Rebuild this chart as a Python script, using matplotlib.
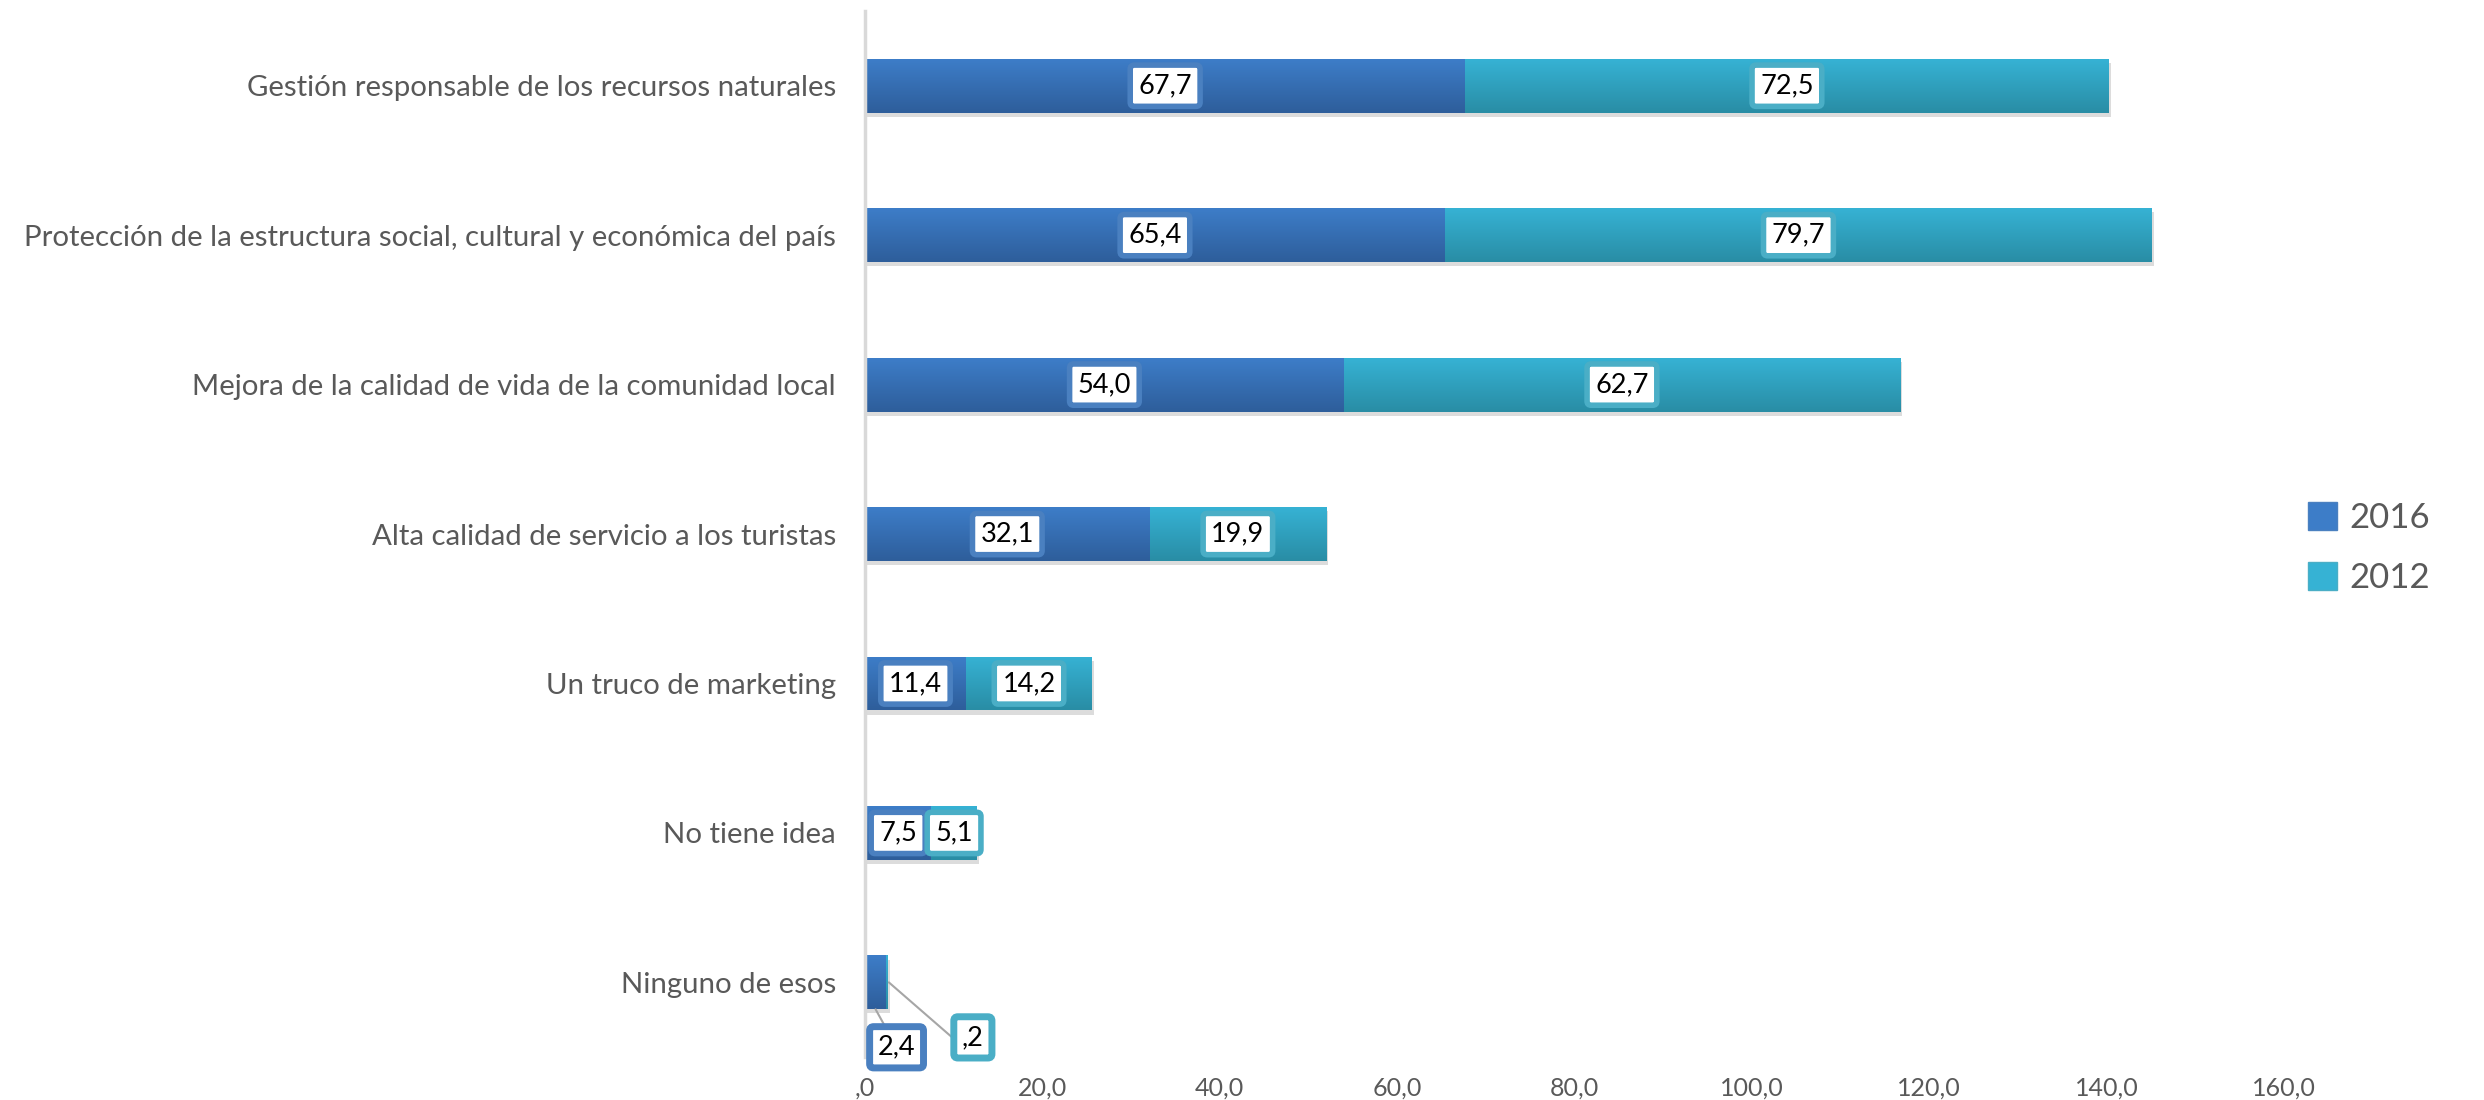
import numpy as np
import matplotlib.pyplot as plt
import matplotlib.patheffects as pe
from matplotlib.colors import LinearSegmentedColormap
from matplotlib.patches import Patch

plt.rcParams['font.family'] = ['Lato', 'DejaVu Sans']

categorias = ["Gestión responsable de los recursos naturales",
              "Protección de la estructura social, cultural y económica del país",
              "Mejora de la calidad de vida de la comunidad local",
              "Alta calidad de servicio a los turistas",
              "Un truco de marketing",
              "No tiene idea",
              "Ninguno de esos"]
v2016 = [67.7, 65.4, 54.0, 32.1, 11.4, 7.5, 2.4]
v2012 = [72.5, 79.7, 62.7, 19.9, 14.2, 5.1, 0.2]
xticks = [0, 20, 40, 60, 80, 100, 120, 140, 160]
xticklabels = [",0", "20,0", "40,0", "60,0", "80,0", "100,0", "120,0", "140,0", "160,0"]

series = [("2016", v2016, "#3d7dc8", "#2e5e9b", "#4a80c0"),
          ("2012", v2012, "#36b2d4", "#298da5", "#4aaec6")]


def fmt(v):
    s = f"{v:.1f}".replace(".", ",")
    return s[1:] if s.startswith("0") else s


fig = plt.figure(figsize=(24.84, 11), dpi=100)
ax = fig.add_axes([0.3482, 0.039, 0.5713, 0.951])

y = np.arange(len(categorias))
alto = 0.36
left = np.zeros(len(categorias))
grad = np.linspace(0, 1, 64).reshape(-1, 1)
for nombre, vals, top, bot, borde in series:
    cmap = LinearSegmentedColormap.from_list(nombre, [top, bot])
    bars = ax.barh(y, vals, left=left, height=alto, color=top, edgecolor='none',
                   label=nombre)
    for b in bars:
        b.set_path_effects([pe.SimplePatchShadow(offset=(1.5, -3), shadow_rgbFace='#8c8c8c',
                                                 alpha=0.3), pe.Normal()])
        x0, y0, w, h = b.get_x(), b.get_y(), b.get_width(), b.get_height()
        im = ax.imshow(grad, cmap=cmap, aspect='auto', extent=[x0, x0 + w, y0 + h, y0],
                       zorder=2.1)
        im.set_clip_path(b)
    left = left + np.array(vals)

# etiquetas de datos
caja = dict(boxstyle='round,pad=0.3,rounding_size=0.15', fc='white', lw=4)
left = np.zeros(len(categorias))
for k, (nombre, vals, top, bot, borde) in enumerate(series):
    for i, v in enumerate(vals):
        if i == len(categorias) - 1:
            continue
        ax.text(left[i] + v / 2, y[i], fmt(v), ha='center', va='center', fontsize=19.5,
                color='black', zorder=5, bbox=dict(caja, ec=borde))
    left = left + np.array(vals)

# "Ninguno de esos" con líneas guía
i = len(categorias) - 1
ax.annotate(fmt(v2016[i]), xy=(v2016[i] / 2, y[i] + alto / 2), xytext=(21, -38),
            textcoords='offset pixels', ha='center', va='center', fontsize=19.5, zorder=5,
            bbox=dict(caja, ec=series[0][4], lw=5),
            arrowprops=dict(arrowstyle='-', color='#a6a6a6', lw=1.5, shrinkA=0, shrinkB=0))
ax.annotate(fmt(v2012[i]), xy=(v2016[i] + v2012[i] + 0.1, y[i]), xytext=(84, -55),
            textcoords='offset pixels', ha='center', va='center', fontsize=19.5, zorder=5,
            bbox=dict(caja, ec=series[1][4], lw=5),
            arrowprops=dict(arrowstyle='-', color='#a6a6a6', lw=1.5, shrinkA=0, shrinkB=0,
                            connectionstyle='angle,angleA=0,angleB=-41,rad=0'))

ax.set_xlim(0, 160)
ax.set_ylim(len(categorias) - 0.5, -0.5)
ax.set_xticks(xticks)
ax.set_xticklabels(xticklabels, fontsize=18, color='#595959')
ax.set_yticks(y)
ax.set_yticklabels(categorias, fontsize=21.2, color='#595959')
ax.tick_params(axis='y', length=0, pad=21)
ax.tick_params(axis='x', length=0, pad=14)
for s in ['top', 'right', 'bottom']:
    ax.spines[s].set_visible(False)
ax.spines['left'].set_color('#d9d9d9')
ax.spines['left'].set_linewidth(2.5)

handles = [Patch(facecolor=s[2], edgecolor=s[4], label=s[0]) for s in series]
fig.legend(handles=handles, loc='center left', bbox_to_anchor=(0.929, 0.502), frameon=False,
           fontsize=25, labelcolor='#595959', handlelength=0.85, handleheight=0.85,
           handletextpad=0.35, labelspacing=0.8, borderpad=0, borderaxespad=0)

fig.savefig('out.png', dpi=100)
